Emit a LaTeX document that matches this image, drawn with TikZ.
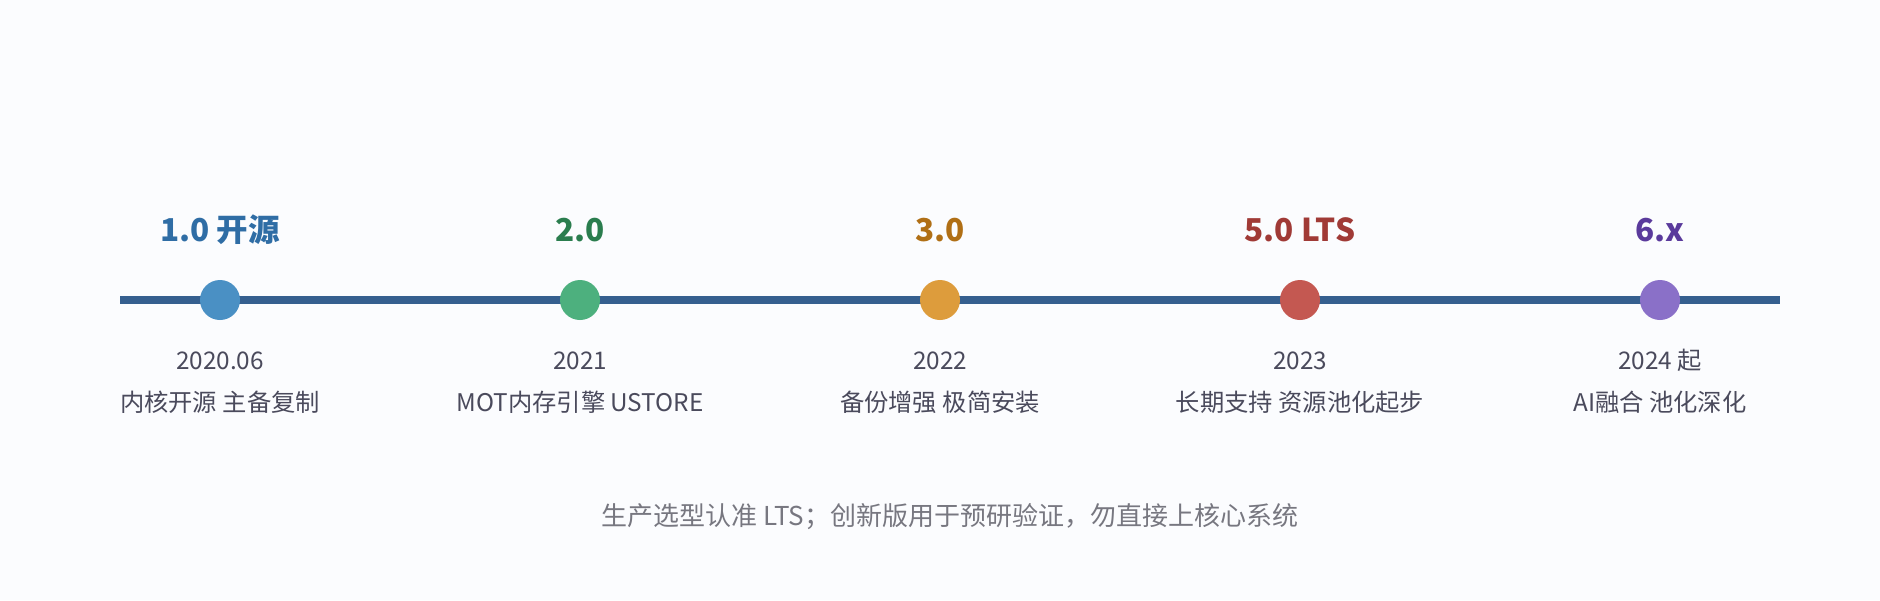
\documentclass[tikz,border=0pt]{standalone}
\usepackage{fontspec}
\setmainfont{Noto Sans CJK SC}
\definecolor{bg}{HTML}{FBFCFE}
\definecolor{axis}{HTML}{355F8F}
\definecolor{tA}{HTML}{2F6DA5}\definecolor{cA}{HTML}{4A90C4}
\definecolor{tB}{HTML}{2A7D4E}\definecolor{cB}{HTML}{4DB07E}
\definecolor{tC}{HTML}{B06F15}\definecolor{cC}{HTML}{DD9C3C}
\definecolor{tD}{HTML}{A03A36}\definecolor{cD}{HTML}{C45851}
\definecolor{tE}{HTML}{5A3A9C}\definecolor{cE}{HTML}{8A70C8}
\definecolor{lbl}{HTML}{4A4A5C}
\definecolor{note}{HTML}{777780}
\tikzset{
  ttl/.style={anchor=base, inner sep=0pt, font=\fontsize{31.5}{36}\selectfont\bfseries},
  lbl/.style={anchor=base, inner sep=0pt, text=lbl, font=\fontsize{24.3}{28}\selectfont},
  dot/.style={circle, minimum size=40pt, inner sep=0pt},
}
\begin{document}
\begin{tikzpicture}[x=1pt,y=-1pt]
\fill[bg] (0,0) rectangle (1880,600);
\useasboundingbox (0,0) rectangle (1880,600);
\coordinate (L) at (120,300);
\coordinate (R) at (1780,300);
\draw[axis, line width=8pt] (L) -- (R);
\foreach \x/\c/\t/\ti/\y/\d/\n in {
  220/cA/tA/{1.0 开源}/2020.06/{内核开源 主备复制}/a,
  580/cB/tB/{2.0}/2021/{MOT内存引擎 USTORE}/b,
  940/cC/tC/{3.0}/2022/{备份增强 极简安装}/c,
  1300/cD/tD/{5.0 LTS}/2023/{长期支持 资源池化起步}/d,
  1660/cE/tE/{6.x}/{2024 起}/{AI融合 池化深化}/e}{
  \node[dot, fill=\c] (dot\n) at (\x,300) {};
  \node[ttl, text=\t] (ttl\n) at (\x,241) {\ti};
  \node[lbl] (yr\n) at (\x,369) {\y};
  \node[lbl] (ds\n) at (\x,411) {\d};
}
\node[anchor=base, inner sep=0pt, text=note, font=\fontsize{26}{30}\selectfont] (note) at (950,525) {生产选型认准 LTS；创新版用于预研验证，勿直接上核心系统};
\end{tikzpicture}
\end{document}
